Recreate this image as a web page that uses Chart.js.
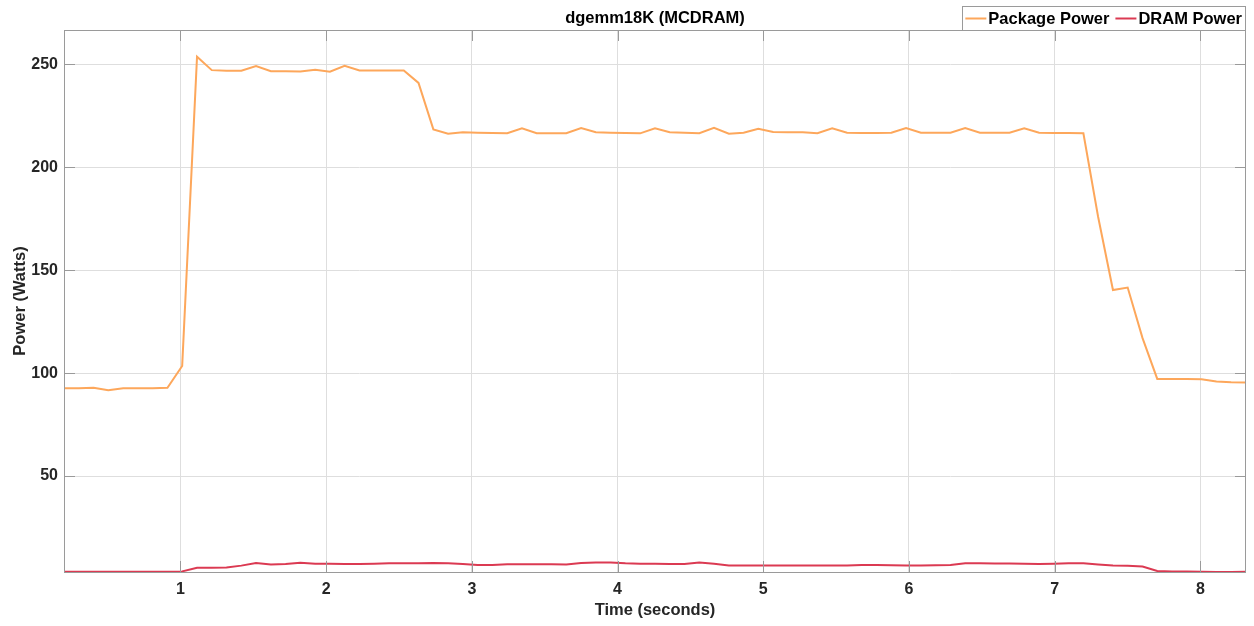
<!DOCTYPE html>
<html>
<head>
<meta charset="utf-8">
<script src="https://cdn.jsdelivr.net/npm/chart.js@4.4.1/dist/chart.umd.min.js"></script>
<style>
html,body{margin:0;padding:0;background:#ffffff;}
#wrap{width:1254px;height:626px;}
canvas{display:block;}
</style>
</head>
<body>
<div id="wrap"><canvas id="c" width="1254" height="626"></canvas></div>
<script>
// ---- data ----
const chartTitle = 'dgemm18K (MCDRAM)';
const seriesNames = ['Package Power', 'DRAM Power'];
const xAxisTitle = 'Time (seconds)';
const yAxisTitle = 'Power (Watts)';
const xTickValues = [1, 2, 3, 4, 5, 6, 7, 8];
const yTickValues = [50, 100, 150, 200, 250];

const timeSeconds = [
  0.201, 0.302, 0.404, 0.505, 0.607, 0.708, 0.809, 0.911, 1.012, 1.114,
  1.215, 1.316, 1.418, 1.519, 1.621, 1.722, 1.823, 1.925, 2.026, 2.127,
  2.229, 2.330, 2.432, 2.533, 2.634, 2.736, 2.837, 2.938, 3.040, 3.141,
  3.243, 3.344, 3.445, 3.547, 3.648, 3.750, 3.851, 3.952, 4.054, 4.155,
  4.257, 4.358, 4.459, 4.561, 4.662, 4.764, 4.865, 4.966, 5.068, 5.169,
  5.271, 5.372, 5.473, 5.575, 5.676, 5.778, 5.879, 5.980, 6.082, 6.183,
  6.285, 6.386, 6.487, 6.589, 6.690, 6.791, 6.893, 6.994, 7.096, 7.197,
  7.298, 7.400, 7.501, 7.603, 7.704, 7.805, 7.907, 8.008, 8.110, 8.211,
  8.313
];

const packagePower = [
  92.7, 92.7, 92.9, 91.7, 92.7, 92.7, 92.7, 92.9, 103.5, 253.7,
  247.2, 246.9, 246.9, 249.2, 246.7, 246.7, 246.6, 247.4, 246.4, 249.3,
  247.0, 247.0, 247.0, 247.0, 241.0, 218.4, 216.3, 217.0, 216.8, 216.7,
  216.6, 218.9, 216.6, 216.6, 216.6, 219.1, 217.0, 216.8, 216.7, 216.5,
  218.9, 217.0, 216.8, 216.6, 219.2, 216.3, 216.8, 218.7, 217.2, 217.0,
  217.0, 216.6, 218.9, 216.8, 216.7, 216.7, 216.8, 219.1, 216.8, 216.8,
  216.8, 219.1, 216.8, 216.8, 216.8, 218.9, 216.8, 216.7, 216.7, 216.5,
  176.0, 140.4, 141.6, 117.0, 97.2, 97.2, 97.1, 97.0, 95.9, 95.6,
  95.5
];

const dramPower = [
  3.5, 3.5, 3.5, 3.5, 3.5, 3.5, 3.5, 3.5, 3.7, 5.5,
  5.5, 5.6, 6.5, 7.8, 7.1, 7.3, 7.9, 7.4, 7.4, 7.3,
  7.3, 7.4, 7.6, 7.6, 7.6, 7.8, 7.7, 7.3, 6.8, 6.8,
  7.2, 7.2, 7.2, 7.2, 7.0, 7.8, 8.0, 8.0, 7.6, 7.4,
  7.4, 7.3, 7.3, 8.0, 7.4, 6.6, 6.6, 6.6, 6.6, 6.6,
  6.6, 6.6, 6.6, 6.6, 6.8, 6.8, 6.7, 6.5, 6.6, 6.7,
  6.8, 7.6, 7.6, 7.5, 7.5, 7.4, 7.3, 7.4, 7.6, 7.6,
  7.1, 6.6, 6.4, 6.1, 3.9, 3.7, 3.6, 3.5, 3.4, 3.4,
  3.5
];

const xRange = [0.201, 8.313];
const yRange = [3.4, 266.7];

// ---- styles ----
const colPackage = '#FDA75B';
const colDram = '#DB3A52';
const gridCol = '#dedede';
const boxCol = '#9a9a9a';
const tickTextCol = '#262626';
const FONT = '"Liberation Sans", Arial, Helvetica, sans-serif';

const decorPlugin = {
  id: 'decor',
  afterDatasetsDraw(chart) {
    const ctx = chart.ctx;
    const a = chart.chartArea;
    const xs = chart.scales.x, ys = chart.scales.y;
    ctx.save();
    // inner tick marks
    ctx.strokeStyle = boxCol;
    ctx.lineWidth = 1;
    const tl = 11;
    ctx.beginPath();
    xTickValues.forEach(v => {
      const px = Math.round(xs.getPixelForValue(v)) + 0.5;
      ctx.moveTo(px, a.bottom); ctx.lineTo(px, a.bottom - tl);
      ctx.moveTo(px, a.top); ctx.lineTo(px, a.top + tl);
    });
    yTickValues.forEach(v => {
      const py = Math.round(ys.getPixelForValue(v)) + 0.5;
      ctx.moveTo(a.left, py); ctx.lineTo(a.left + tl, py);
      ctx.moveTo(a.right, py); ctx.lineTo(a.right - tl, py);
    });
    ctx.stroke();
    // axes box
    ctx.strokeRect(Math.round(a.left) + 0.5, Math.round(a.top) + 0.5,
                   Math.round(a.right - a.left) - 1, Math.round(a.bottom - a.top));
    // title
    ctx.fillStyle = '#000000';
    ctx.font = 'bold 16.5px ' + FONT;
    ctx.textAlign = 'center';
    ctx.textBaseline = 'middle';
    ctx.fillText(chartTitle, (a.left + a.right) / 2, 18.5);
    // legend
    ctx.font = 'bold 16.5px ' + FONT;
    const ds = chart.data.datasets;
    const sample = 21, gapAfterSample = 2, gapBetween = 6, padL = 3, padR = 4;
    const widths = ds.map(d => ctx.measureText(d.label).width);
    let total = padL + padR;
    widths.forEach((w, i) => { total += sample + gapAfterSample + w + (i < widths.length - 1 ? gapBetween : 0); });
    const boxRight = a.right, boxTop = 6, boxH = 24;
    const boxLeft = boxRight - total;
    ctx.fillStyle = '#ffffff';
    ctx.fillRect(boxLeft, boxTop, total, boxH);
    ctx.strokeStyle = boxCol;
    ctx.strokeRect(Math.round(boxLeft) + 0.5, boxTop + 0.5, Math.round(total) - 1, boxH);
    let cx = boxLeft + padL;
    const cy = boxTop + boxH / 2 + 0.5;
    ctx.textAlign = 'left';
    ctx.textBaseline = 'middle';
    ds.forEach((d, i) => {
      ctx.strokeStyle = d.borderColor;
      ctx.lineWidth = 2;
      ctx.beginPath();
      ctx.moveTo(cx, cy); ctx.lineTo(cx + sample, cy);
      ctx.stroke();
      cx += sample + gapAfterSample;
      ctx.fillStyle = '#000000';
      ctx.fillText(d.label, cx, cy + 1);
      cx += widths[i] + gapBetween;
    });
    ctx.restore();
  }
};

const toPoints = (xsArr, ysArr) => xsArr.map((x, i) => ({x: x, y: ysArr[i]}));

new Chart(document.getElementById('c'), {
  type: 'line',
  data: {
    datasets: [
      { label: seriesNames[0], data: toPoints(timeSeconds, packagePower),
        borderColor: colPackage, backgroundColor: colPackage, borderWidth: 2,
        pointRadius: 0, tension: 0, fill: false },
      { label: seriesNames[1], data: toPoints(timeSeconds, dramPower),
        borderColor: colDram, backgroundColor: colDram, borderWidth: 2,
        pointRadius: 0, tension: 0, fill: false }
    ]
  },
  options: {
    responsive: false,
    animation: false,
    events: [],
    layout: { padding: { top: 30, right: 8, bottom: 0, left: 0 } },
    plugins: { legend: { display: false }, title: { display: false }, tooltip: { enabled: false } },
    scales: {
      x: {
        type: 'linear', min: xRange[0], max: xRange[1],
        afterBuildTicks: s => { s.ticks = xTickValues.map(v => ({value: v})); },
        afterFit: s => { s.height = 54; },
        ticks: { font: { family: FONT, size: 16, weight: 'bold' }, color: tickTextCol, padding: 8,
                 autoSkip: false, maxRotation: 0, callback: v => String(v) },
        grid: { color: gridCol, lineWidth: 1, drawTicks: false },
        border: { display: false },
        title: { display: true, text: xAxisTitle, color: tickTextCol,
                 font: { family: FONT, size: 16.5, weight: 'bold' }, padding: { top: 0, bottom: 6 } }
      },
      y: {
        type: 'linear', min: yRange[0], max: yRange[1],
        afterBuildTicks: s => { s.ticks = yTickValues.map(v => ({value: v})); },
        afterFit: s => { s.width = 64; },
        ticks: { font: { family: FONT, size: 16, weight: 'bold' }, color: tickTextCol, padding: 6,
                 callback: v => String(v) },
        grid: { color: gridCol, lineWidth: 1, drawTicks: false },
        border: { display: false },
        title: { display: true, text: yAxisTitle, color: tickTextCol,
                 font: { family: FONT, size: 16.5, weight: 'bold' }, padding: { top: 11, bottom: 0 } }
      }
    }
  },
  plugins: [decorPlugin]
});
</script>
</body>
</html>
